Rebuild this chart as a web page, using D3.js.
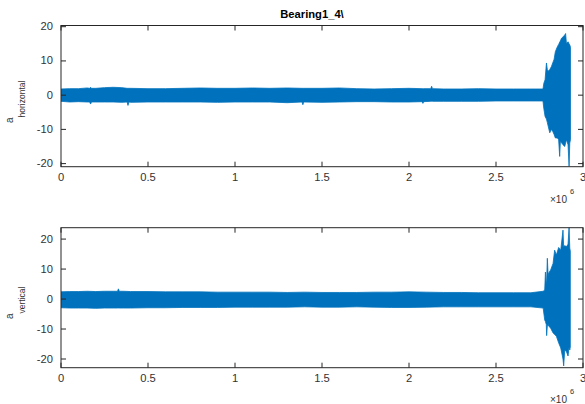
<!DOCTYPE html>
<html>
<head>
  <meta charset="UTF-8" />
  <title>Bearing1_4</title>
  <style>
    body { margin: 0; background: #fff; }
    svg { font-family: "Liberation Sans", Arial, Helvetica, sans-serif; }
  </style>
  <script src="https://d3js.org/d3.v7.min.js"></script>
</head>
<body>
  <div id="chart"></div>
  <script>
    // envelope of the vibration signal, x in units of 10^6 samples
    const horizX = [0, 0.05, 0.1, 0.15, 0.165, 0.17, 0.175, 0.2, 0.25, 0.3, 0.35, 0.38, 0.385, 0.39, 0.4, 0.5, 0.6, 0.7, 0.8, 0.9, 1.0, 1.1, 1.2, 1.3, 1.385, 1.39, 1.395, 1.5, 1.6, 1.7, 1.8, 1.9, 2.0, 2.075, 2.08, 2.085, 2.125, 2.13, 2.135, 2.2, 2.3, 2.4, 2.5, 2.6, 2.7, 2.77,
      2.775, 2.782, 2.79, 2.795, 2.8, 2.809, 2.818, 2.826, 2.834, 2.841, 2.853, 2.86, 2.866, 2.87, 2.876, 2.885, 2.895, 2.9, 2.905, 2.914, 2.92, 2.924, 2.928];
    const horizHi = [1.8, 1.9, 1.9, 2.1, 2.0, 2.3, 2.0, 2.0, 2.2, 2.3, 2.2, 2.0, 2.0, 2.0, 2.0, 1.9, 1.9, 2.0, 2.1, 2.0, 2.0, 2.1, 2.0, 2.1, 2.0, 2.0, 2.0, 2.0, 2.1, 1.9, 1.8, 1.9, 2.0, 1.9, 1.9, 1.9, 1.9, 2.6, 1.9, 1.8, 1.8, 1.9, 1.8, 1.8, 1.8, 1.8,
      3.5, 4.5, 9.4, 7.5, 7.0, 7.5, 8.3, 9.4, 10.5, 12.7, 14.2, 14.8, 15.5, 15.8, 16.6, 17.0, 17.6, 18.0, 15.0, 15.6, 15.0, 14.7, 14.0];
    const horizLo = [-1.8, -2.0, -1.9, -2.0, -2.0, -2.6, -2.0, -2.0, -2.0, -2.0, -2.1, -2.0, -3.0, -2.0, -2.1, -2.0, -2.0, -2.0, -2.0, -2.1, -2.0, -2.0, -2.0, -2.2, -2.0, -2.8, -2.0, -2.1, -2.0, -1.9, -1.9, -2.0, -2.0, -1.9, -2.4, -1.9, -1.8, -1.8, -1.8, -1.8, -1.8, -1.8, -1.7, -1.7, -1.7, -1.7,
      -4.0, -6.2, -7.0, -8.0, -9.1, -11.0, -10.0, -10.6, -11.5, -12.5, -12.5, -13.0, -17.9, -13.5, -13.9, -14.5, -15.0, -14.0, -13.0, -14.5, -20.8, -14.0, -13.0];

    const vertX = [0, 0.05, 0.1, 0.15, 0.2, 0.25, 0.3, 0.325, 0.33, 0.335, 0.36, 0.4, 0.5, 0.6, 0.7, 0.8, 0.9, 1.0, 1.1, 1.2, 1.3, 1.4, 1.5, 1.6, 1.7, 1.8, 1.9, 2.0, 2.1, 2.2, 2.3, 2.4, 2.5, 2.6, 2.7, 2.771,
      2.78, 2.784, 2.789, 2.791, 2.795, 2.8, 2.803, 2.814, 2.828, 2.837, 2.847, 2.86, 2.872, 2.885, 2.889, 2.895, 2.905, 2.914, 2.92, 2.924, 2.927];
    const vertHi = [2.4, 2.5, 2.5, 2.6, 2.5, 2.6, 2.6, 2.6, 3.4, 2.6, 2.6, 2.5, 2.5, 2.4, 2.4, 2.4, 2.3, 2.3, 2.3, 2.3, 2.2, 2.3, 2.2, 2.2, 2.2, 2.3, 2.3, 2.4, 2.3, 2.2, 2.2, 2.1, 2.1, 2.1, 2.1, 2.6,
      3.0, 9.0, 5.0, 6.0, 13.6, 7.5, 8.7, 9.7, 11.9, 16.3, 14.7, 17.2, 16.3, 23.0, 17.5, 17.8, 17.5, 18.3, 24.0, 17.0, 16.0];
    const vertLo = [-2.9, -3.0, -3.0, -3.0, -3.1, -3.0, -3.0, -3.0, -3.0, -3.0, -3.0, -3.0, -2.9, -2.9, -2.8, -2.8, -2.8, -2.7, -2.7, -2.7, -2.7, -2.6, -2.7, -2.7, -2.6, -2.7, -2.8, -2.8, -2.7, -2.6, -2.6, -2.6, -2.6, -2.6, -2.6, -3.0,
      -7.0, -7.5, -8.5, -12.2, -9.0, -8.5, -9.0, -9.7, -11.3, -11.8, -12.4, -14.6, -16.3, -20.0, -22.3, -17.0, -17.6, -19.0, -16.0, -17.0, -16.0];

    const xTicks = [0, 0.5, 1, 1.5, 2, 2.5, 3];
    const yTicks = [20, 10, 0, -10, -20];

    const W = 585, H = 404;
    const left = 61, right = 583;
    const color = "#0072BD";
    const axisColor = "#262626";
    const stretch = 1.12;

    const svg = d3.select("#chart").append("svg")
      .attr("width", W)
      .attr("height", H);

    // title
    svg.append("text")
      .attr("transform", "translate(312,17.5) scale(" + stretch + ",1)")
      .attr("text-anchor", "middle")
      .style("font-size", "10px")
      .style("font-weight", "bold")
      .attr("fill", "#000")
      .text("Bearing1_4\\");

    const panels = [
      { xs: horizX, hi: horizHi, lo: horizLo, sub: "horizontal", top: 25.5, bottom: 166.7, domain: [-20.9, 20.35], labelY: 123, expY: 203 },
      { xs: vertX, hi: vertHi, lo: vertLo, sub: "vertical", top: 227.7, bottom: 367.7, domain: [-22.9, 23.8], labelY: 319, expY: 403 }
    ];

    panels.forEach((p, idx) => {
      const x = d3.scaleLinear().domain([0, 3]).range([left, right]);
      const y = d3.scaleLinear().domain(p.domain).range([p.bottom, p.top]);

      const g = svg.append("g");

      g.append("clipPath").attr("id", "clip" + idx)
        .append("rect")
        .attr("x", left).attr("y", p.top)
        .attr("width", right - left).attr("height", p.bottom - p.top);

      const rows = p.xs.map((v, i) => ({ x: v, hi: p.hi[i], lo: p.lo[i] }));

      const area = d3.area()
        .x(d => x(d.x))
        .y0(d => y(d.lo))
        .y1(d => y(d.hi));

      g.append("path")
        .datum(rows)
        .attr("clip-path", "url(#clip" + idx + ")")
        .attr("d", area)
        .attr("fill", color)
        .attr("stroke", color)
        .attr("stroke-width", 0.8);

      // box
      g.append("rect")
        .attr("x", left).attr("y", p.top)
        .attr("width", right - left).attr("height", p.bottom - p.top)
        .attr("fill", "none")
        .attr("stroke", axisColor)
        .attr("stroke-width", 1);

      // ticks, pointing inward on all four sides
      xTicks.forEach(t => {
        g.append("line").attr("x1", x(t)).attr("x2", x(t)).attr("y1", p.bottom).attr("y2", p.bottom - 5).attr("stroke", axisColor);
        g.append("line").attr("x1", x(t)).attr("x2", x(t)).attr("y1", p.top).attr("y2", p.top + 5).attr("stroke", axisColor);
        g.append("text")
          .attr("transform", "translate(" + x(t) + "," + (p.bottom + 14.5) + ") scale(" + stretch + ",1)")
          .attr("text-anchor", "middle")
          .style("font-size", "10px")
          .attr("fill", "#333")
          .text(t);
      });
      yTicks.forEach(t => {
        g.append("line").attr("x1", left).attr("x2", left + 5).attr("y1", y(t)).attr("y2", y(t)).attr("stroke", axisColor);
        g.append("line").attr("x1", right).attr("x2", right - 5).attr("y1", y(t)).attr("y2", y(t)).attr("stroke", axisColor);
        g.append("text")
          .attr("transform", "translate(53," + (y(t) + 3.5) + ") scale(" + stretch + ",1)")
          .attr("text-anchor", "end")
          .style("font-size", "10px")
          .attr("fill", "#333")
          .text(t);
      });

      // y label with subscript
      const lab = g.append("text")
        .attr("transform", "translate(13," + p.labelY + ") rotate(-90)")
        .attr("fill", "#333");
      lab.append("tspan").style("font-size", "10px").text("a");
      lab.append("tspan").attr("dy", 12).style("font-size", "8.5px").text(p.sub);

      // exponent
      const ex = g.append("text")
        .attr("transform", "translate(550," + p.expY + ")")
        .attr("fill", "#333");
      ex.append("tspan").style("font-size", "10px").text("\u00d710");
      ex.append("tspan").attr("dx", 3).attr("dy", -9).style("font-size", "7.5px").text("6");
    });
  </script>
</body>
</html>
